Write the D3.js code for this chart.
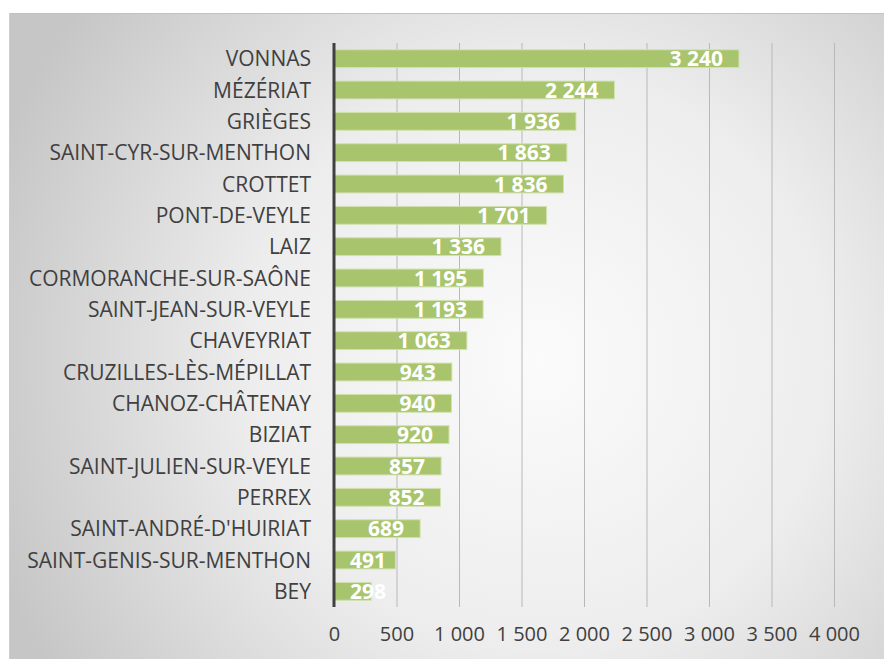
<!DOCTYPE html>
<html>
<head>
<meta charset="utf-8">
<script src="https://cdn.jsdelivr.net/npm/d3@7"></script>
<style>
  body { margin: 0; background: #fff; }
  svg { display: block; }
  text { font-family: "Open Sans", sans-serif; }
</style>
</head>
<body>
<div id="chart"></div>
<script>
// communes, sorted as in the chart (top to bottom)
const communes = [
  'VONNAS', 'MÉZÉRIAT', 'GRIÈGES', 'SAINT-CYR-SUR-MENTHON', 'CROTTET',
  'PONT-DE-VEYLE', 'LAIZ', 'CORMORANCHE-SUR-SAÔNE', 'SAINT-JEAN-SUR-VEYLE',
  'CHAVEYRIAT', 'CRUZILLES-LÈS-MÉPILLAT', 'CHANOZ-CHÂTENAY', 'BIZIAT',
  'SAINT-JULIEN-SUR-VEYLE', 'PERREX', "SAINT-ANDRÉ-D'HUIRIAT",
  'SAINT-GENIS-SUR-MENTHON', 'BEY'
];
const values = [3240, 2244, 1936, 1863, 1836, 1701, 1336, 1195, 1193,
  1063, 943, 940, 920, 857, 852, 689, 491, 298];
const ticks = [0, 500, 1000, 1500, 2000, 2500, 3000, 3500, 4000];

const W = 884, H = 659;
const m = { left: 334, right: 50, top: 43, bottom: 52 };

// "1 000" style thousands separator
const fmt = v => d3.format(',')(v).replace(/,/g, ' ');

const svg = d3.select('#chart').append('svg')
  .attr('width', W).attr('height', H);

// ─── background panel ───────────────────────────────────────────────────────
const defs = svg.append('defs');
const grad = defs.append('radialGradient')
  .attr('id', 'bg').attr('gradientUnits', 'userSpaceOnUse')
  .attr('cx', 540).attr('cy', 360).attr('r', 580);
grad.append('stop').attr('offset', '0%').attr('stop-color', '#fbfbfb');
grad.append('stop').attr('offset', '50%').attr('stop-color', '#ededed');
grad.append('stop').attr('offset', '100%').attr('stop-color', '#c6c6c6');

svg.append('rect')
  .attr('x', 9).attr('y', 13).attr('width', W - 9).attr('height', H - 13)
  .attr('fill', 'url(#bg)');
svg.append('line')
  .attr('x1', 9).attr('x2', W).attr('y1', 13.5).attr('y2', 13.5)
  .attr('stroke', '#c2c2c2');
svg.append('line')
  .attr('x1', 9.5).attr('x2', 9.5).attr('y1', 13).attr('y2', H)
  .attr('stroke', '#cdcdcd');

// ─── scales ────────────────────────────────────────────────────────────────
const x = d3.scaleLinear().domain([0, 4000]).range([m.left, m.left + 500]);
const y = d3.scaleBand().domain(communes)
  .range([m.top, H - m.bottom]).paddingInner(0.43).paddingOuter(0.215);

// gridlines
svg.append('g')
  .selectAll('line').data(ticks.slice(1)).join('line')
  .attr('x1', d => x(d) + 0.5).attr('x2', d => x(d) + 0.5)
  .attr('y1', m.top).attr('y2', H - m.bottom)
  .attr('stroke', '#b8b8b8').attr('stroke-width', 1);

// bars
svg.append('g')
  .selectAll('rect').data(values).join('rect')
  .attr('x', x(0))
  .attr('y', (d, i) => y(communes[i]))
  .attr('width', d => x(d) - x(0))
  .attr('height', y.bandwidth())
  .attr('fill', '#a8c46d')
  .attr('stroke', '#d2e2b0')
  .attr('stroke-width', 1);

// value labels, inside end (pushed right when the bar is too short)
const labels = svg.append('g')
  .selectAll('text').data(values).join('text')
  .attr('y', (d, i) => y(communes[i]) + y.bandwidth() / 2)
  .attr('dy', '0.36em')
  .attr('text-anchor', 'end')
  .attr('font-size', 21).attr('font-weight', 'bold')
  .attr('fill', '#fff')
  .text(fmt);
labels.each(function (d) {
  const w = this.getComputedTextLength();
  const right = Math.max(x(d) - 16, x(0) + 16 + w);
  d3.select(this).attr('x', right);
});

// category axis
const yAxis = svg.append('g')
  .attr('transform', `translate(${x(0)},0)`)
  .call(d3.axisLeft(y).tickSize(0).tickPadding(23));
yAxis.select('.domain').remove();
yAxis.selectAll('text')
  .attr('font-size', 21).attr('fill', '#404040')
  .attr('font-family', '"Open Sans", sans-serif')
  .attr('dy', '0.36em');

// dark baseline at 0
svg.append('line')
  .attr('x1', x(0)).attr('x2', x(0))
  .attr('y1', m.top).attr('y2', H - m.bottom)
  .attr('stroke', '#404040').attr('stroke-width', 3);

// value axis
const xAxis = svg.append('g')
  .attr('transform', `translate(0,${H - m.bottom})`)
  .call(d3.axisBottom(x).tickValues(ticks).tickFormat(fmt).tickSize(0).tickPadding(20));
xAxis.select('.domain').remove();
xAxis.selectAll('text')
  .attr('font-size', 20).attr('fill', '#404040')
  .attr('font-family', '"Open Sans", sans-serif');
</script>
</body>
</html>
